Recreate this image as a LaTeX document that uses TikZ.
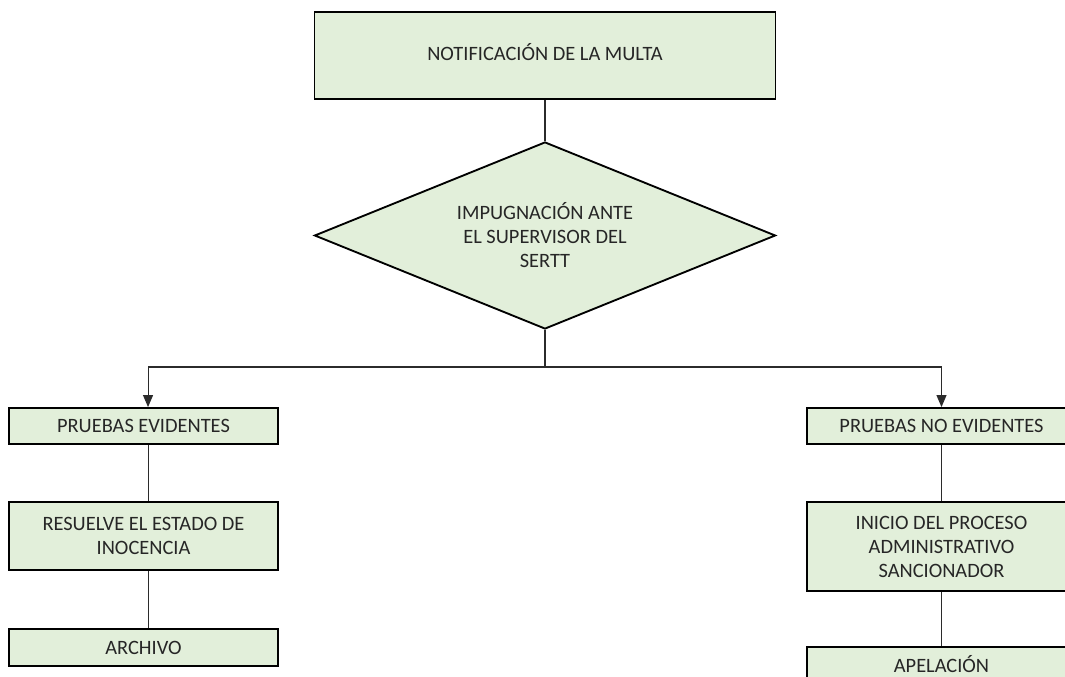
\documentclass[tikz,border=0pt]{standalone}
\usepackage{fontspec}
\setmainfont{Carlito}
\usetikzlibrary{shapes.geometric,arrows.meta}
\definecolor{boxfill}{HTML}{E2EFDA}
\definecolor{linec}{HTML}{2B2B2B}
\begin{document}
\begin{tikzpicture}[x=0.75pt,y=-0.75pt,
  every node/.style={font=\fontsize{15.3}{18}\selectfont, text=black!85, align=center},
  boxnode/.style={draw=black, line width=1.4pt, fill=boxfill, rectangle, inner sep=0pt, minimum width=201.75pt},
  decnode/.style={draw=black, line width=1.4pt, fill=boxfill, diamond, shape aspect=2.465, inner sep=0pt, minimum width=345.75pt, minimum height=140.25pt},
  conn/.style={draw=linec, line width=0.8pt},
  arr/.style={conn, -{Triangle[width=7.5pt,length=9pt]}}]
\useasboundingbox (0,0) rectangle (1065,677);
\clip (0,0) rectangle (1065,677);
\fill[white] (0,0) rectangle (1065,677);
% nodes
\node[boxnode, minimum width=345.75pt, minimum height=65.25pt] (top) at (545,55.5) {\raisebox{6pt}{NOTIFICACIÓN DE LA MULTA}};
\node[decnode] (dec) at (545,235.5) {IMPUGNACIÓN ANTE\\EL SUPERVISOR DEL\\SERTT};
\coordinate (branch) at (545,367);
\node[boxnode, minimum height=27pt] (pe) at (143.5,426) {PRUEBAS EVIDENTES};
\node[boxnode, minimum height=51pt] (rs) at (143.5,536) {RESUELVE EL ESTADO DE\\INOCENCIA};
\node[boxnode, minimum height=27.75pt] (ar) at (143.5,647.5) {ARCHIVO};
\node[boxnode, minimum height=27pt] (pne) at (941.5,426) {PRUEBAS NO EVIDENTES};
\node[boxnode, minimum height=66.75pt] (ini) at (941.5,546.5) {INICIO DEL PROCESO\\ADMINISTRATIVO\\SANCIONADOR};
\node[boxnode, minimum height=25.5pt] (ap) at (941.5,664) {APELACIÓN};
% connectors
\draw[conn] (top.south) -- (dec.north);
\draw[conn] (dec.south) -- (branch);
\draw[arr] (branch) -| ([xshift=3.4pt]pe.north);
\draw[arr] (branch) -| (pne.north);
\draw[conn] ([xshift=3.4pt]pe.south) -- ([xshift=3.4pt]rs.north);
\draw[conn] ([xshift=3.4pt]rs.south) -- ([xshift=3.4pt]ar.north);
\draw[conn] (pne.south) -- (ini.north);
\draw[conn] (ini.south) -- (ap.north);
\end{tikzpicture}
\end{document}
